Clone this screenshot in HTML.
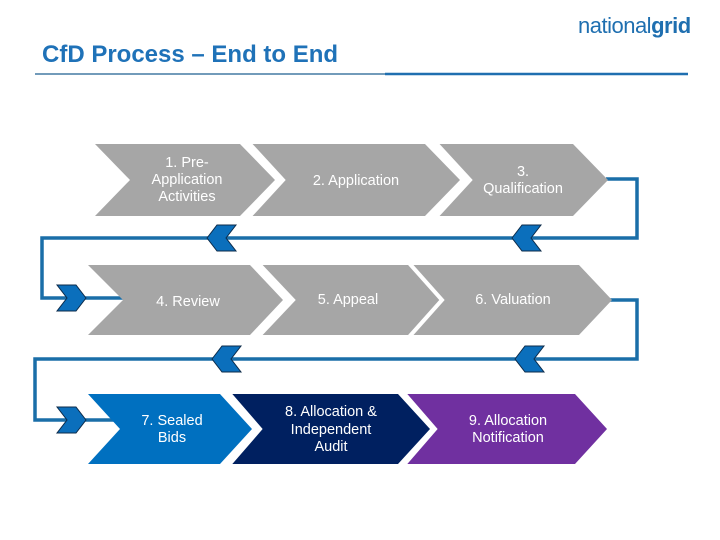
<!DOCTYPE html>
<html><head><meta charset="utf-8"><style>
body{margin:0;background:#fff;}
svg{display:block;}
text{font-family:"Liberation Sans",sans-serif;}
</style></head><body>
<svg width="720" height="540" viewBox="0 0 720 540" xmlns="http://www.w3.org/2000/svg">
<text x="578" y="33" font-size="22" fill="#1f6fb0" letter-spacing="-0.5">national<tspan font-weight="bold">grid</tspan></text>
<text x="42" y="62" font-size="24" font-weight="bold" fill="#1f72b8">CfD Process – End to End</text>
<line x1="35" y1="74" x2="445" y2="74" stroke="#1f5f90" stroke-width="1.2"/>
<line x1="385" y1="74" x2="688" y2="74" stroke="#1f6fb0" stroke-width="2.5"/>

<g fill="none" stroke="#1a6ea8" stroke-width="3.5">
<polyline points="606,179 637,179 637,238 42,238 42,298 123,298"/>
<polyline points="610,300 637,300 637,359 35,359 35,420 120,420"/>
</g>

<g fill="#a6a6a6">
<polygon points="95,144 240,144 275,180 240,216 95,216 130,180"/>
<polygon points="250,144 425,144 460,180 425,216 250,216 285,180"/>
<polygon points="437,144 573,144 608,180 573,216 437,216 472,180"/>
<polygon points="88,265 250,265 283,300 250,335 88,335 123,300"/>
<polygon points="260,265 410,265 443,300 410,335 260,335 295,300"/>
<polygon points="411,265 579,265 612,300 579,335 411,335 444,300"/>
</g>
<polygon points="88,394 220,394 252,429 220,464 88,464 120,429" fill="#0070c0"/>
<polygon points="230,394 398,394 430,429 398,464 230,464 262,429" fill="#002060"/>
<polygon points="405,394 575,394 607,429 575,464 405,464 437,429" fill="#7030a0"/>

<g fill="none" stroke="#fff" stroke-width="4">
<polyline points="248,142 283,180 248,218"/>
<polyline points="435,142 470,180 435,218"/>
<polyline points="258,263 293,300 258,337"/>
<polyline points="409,263 442,300 409,337"/>
<polyline points="228,392 260,429 228,466"/>
<polyline points="403,392 435,429 403,466"/>
</g>

<g fill="#0b6fbc" stroke="#0c2b4a" stroke-width="1">
<polygon points="207,238 217,225 236,225 226,238 236,251 217,251"/>
<polygon points="512,238 522,225 541,225 531,238 541,251 522,251"/>
<polygon points="86,298 76,285 57,285 67,298 57,311 76,311"/>
<polygon points="212,359 222,346 241,346 231,359 241,372 222,372"/>
<polygon points="515,359 525,346 544,346 534,359 544,372 525,372"/>
<polygon points="86,420 76,407 57,407 67,420 57,433 76,433"/>
</g>

<g fill="#fff" font-size="14.5" text-anchor="middle">
<text x="187" y="167">1. Pre-</text>
<text x="187" y="184">Application</text>
<text x="187" y="201">Activities</text>
<text x="356" y="185">2. Application</text>
<text x="523" y="176">3.</text>
<text x="523" y="193">Qualification</text>
<text x="188" y="306">4. Review</text>
<text x="348" y="304">5. Appeal</text>
<text x="513" y="304">6. Valuation</text>
<text x="172" y="425">7. Sealed</text>
<text x="172" y="442">Bids</text>
<text x="331" y="416">8. Allocation &amp;</text>
<text x="331" y="434">Independent</text>
<text x="331" y="451">Audit</text>
<text x="508" y="425">9. Allocation</text>
<text x="508" y="442">Notification</text>
</g>
</svg>
</body></html>
